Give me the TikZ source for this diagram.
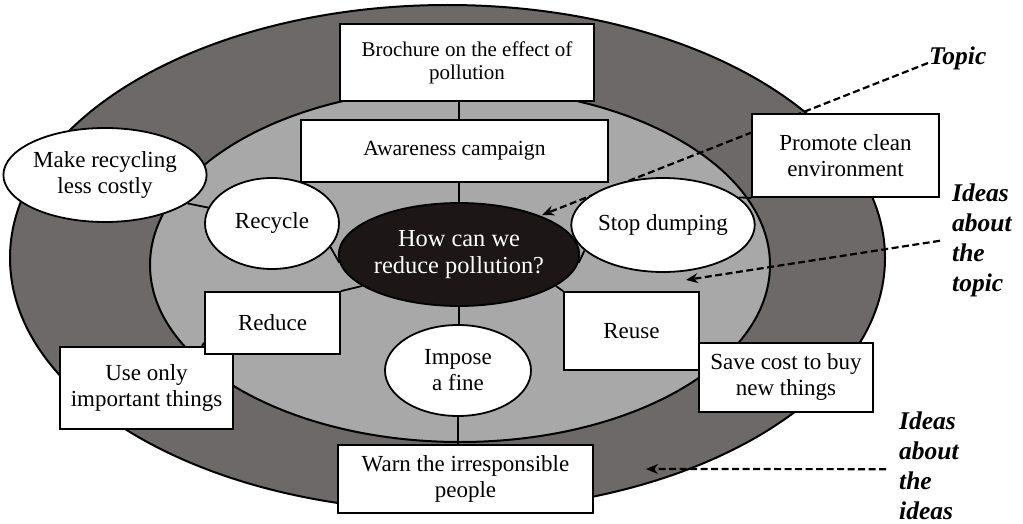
\documentclass[tikz,border=0pt]{standalone}
\usepackage{fontspec}
\setmainfont{Liberation Serif}
\usetikzlibrary{shapes.geometric,arrows.meta,backgrounds}
\definecolor{ringdark}{RGB}{108,105,104}
\definecolor{ringlight}{RGB}{168,168,168}
\definecolor{hubfill}{RGB}{28,22,22}
\tikzset{
  box/.style={draw=black, line width=1.8pt, fill=white, rectangle, inner sep=0pt, align=center},
  oval/.style={draw=black, line width=1.8pt, fill=white, ellipse, inner sep=0pt, align=center},
  link/.style={line width=1.8pt, draw=black},
  pointer/.style={line width=2.2pt, draw=black, dash pattern=on 7pt off 3.5pt, -{Stealth[length=12pt,width=10pt]}},
  tag/.style={font=\fontsize{25.5}{30}\selectfont\bfseries\itshape, align=left, inner sep=0pt},
  fA/.style={font=\fontsize{21}{23}\selectfont},
  fB/.style={font=\fontsize{21.6}{24}\selectfont},
  fC/.style={font=\fontsize{23}{26}\selectfont},
  fD/.style={font=\fontsize{24.4}{26.5}\selectfont},
}
\begin{document}
\begin{tikzpicture}[x=1pt,y=-1pt]
\useasboundingbox (0,0) rectangle (1023,524);

% nodes
\node[box, fA, minimum width=254pt, minimum height=77pt] (brochure) at (467,62.5) {Brochure on the effect of\\pollution};
\node[box, fB, minimum width=307pt, minimum height=62pt] (awareness) at (454.5,151) {Awareness campaign};
\node[oval, fD, fill=hubfill, text=white, minimum width=188pt, minimum height=103pt] (hub) at (459,254.5) {How can we\\reduce pollution?};
\node[oval, fC, minimum width=134pt, minimum height=91pt] (recycle) at (272,223.5) {Recycle};
\node[oval, fC, minimum width=176pt, minimum height=94pt] (make) at (105,175) {Make recycling\\less costly};
\node[box, fC, minimum width=173pt, minimum height=82pt] (useonly) at (146.5,388) {Use only\\important things};
\node[box, fC, minimum width=135pt, minimum height=62pt] (reduce) at (272.5,323) {Reduce};
\node[oval, fC, minimum width=146pt, minimum height=91pt] (impose) at (458,370.5) {Impose\\a fine};
\node[box, fC, minimum width=255pt, minimum height=68pt] (warn) at (465.5,479) {Warn the irresponsible\\people};
\node[box, fC, minimum width=135pt, minimum height=78pt] (reuse) at (631.5,331) {Reuse};
\node[box, fC, minimum width=174pt, minimum height=69pt] (save) at (786,377.5) {Save cost to buy\\new things};
\node[oval, fC, minimum width=144pt, minimum height=94pt] (stop) at (663,225) {Stop dumping};
\node[box, fC, minimum width=187pt, minimum height=83pt] (promote) at (845.5,155.5) {Promote clean\\environment};

% labels
\node[tag, anchor=base west] (topic) at (929,65) {Topic};
\node[tag, anchor=north west] (ideasT) at (952,184) {Ideas\\about\\the\\topic};
\node[tag, anchor=north west] (ideasI) at (899,412) {Ideas\\about\\the\\ideas};

\coordinate (tipA) at (542,215);
\coordinate (tipB) at (686,280);
\coordinate (tipC) at (646,469);

\begin{scope}[on background layer]
  \fill[white] (0,0) rectangle (1023,524);
  \draw[line width=2pt, fill=ringdark] (447.5,258) ellipse [x radius=437.5pt, y radius=253pt];
  \draw[line width=2pt, fill=ringlight] (460,265) ellipse [x radius=310pt, y radius=177pt];
  % dashed pointers
  \draw[pointer] ([xshift=-1pt,yshift=2pt]topic.base west) -- (tipA);
  \draw[pointer] ([xshift=-12pt]ideasT.west) -- (tipB);
  \draw[pointer] ([xshift=-13pt,yshift=-3pt]ideasI.west) -- (tipC);
  % connectors
  \draw[link] (brochure.south -| hub.north) -- (awareness.north -| hub.north);
  \draw[link] (awareness.south -| hub.north) -- (hub.north);
  \draw[link] (hub.south) -- (hub.south |- impose.north);
  \draw[link] (impose.south) -- (impose.south |- warn.north);
  \draw[link] (make.-19) -- (recycle.166);
  \draw[link] (recycle.-22) -- (hub.184);
  \draw[link] (hub.198) -- (reduce.north east);
  \draw[link] (useonly.37.5) -- (reduce.196.5);
  \draw[link] (hub.-18) -- (reuse.north west);
  \draw[link] (stop.198) -- (hub.-4);
  \draw[link] (stop.20) -- (promote.south west);
\end{scope}
\end{tikzpicture}
\end{document}
